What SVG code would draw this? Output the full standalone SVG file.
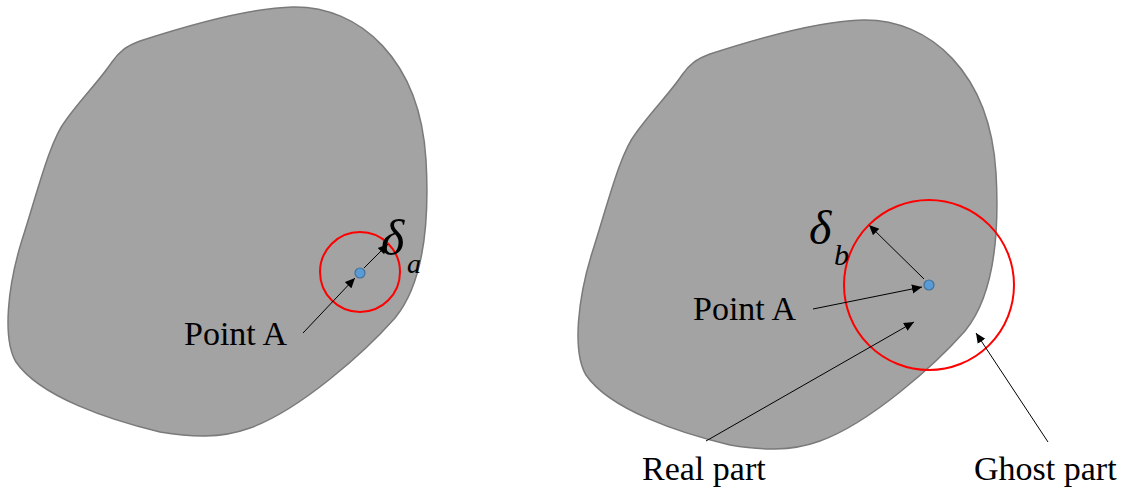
<svg xmlns="http://www.w3.org/2000/svg" width="1127" height="491" viewBox="0 0 1127 491">
<style>
.blob{fill:#a3a3a3;stroke:#7a7a7a;stroke-width:1.5}
.ring{fill:none;stroke:#ff0000;stroke-width:2}
.dot{fill:#5b9bd5;stroke:#41719c;stroke-width:1.2}
.arr{fill:none;stroke:#000;stroke-width:1;marker-end:url(#ah)}
.lbl{font-family:"Liberation Serif",serif;font-size:34px;fill:#000}
.sym{font-family:"Liberation Serif",serif;font-style:italic;fill:#000}
</style>
<defs>
<marker id="ah" viewBox="0 0 10 10" refX="10" refY="5" markerWidth="10" markerHeight="10" markerUnits="userSpaceOnUse" orient="auto">
<path d="M0,0.5 L10,5 L0,9.5 Z" fill="#000"/>
</marker>
<path id="shape" d="M112,62 C119,52 126,46 140,41 C180,28 245,8 293,7 C360,6 420,60 426,160 C430,230 422,285 395,318 C365,352 300,410 250,428 C220,439 190,437 160,432 C110,420 40,397 16,362 C2,338 8,285 22,240 C38,190 50,140 66,120 C80,100 100,80 112,62 Z"/>
</defs>
<g id="shape-a">
<use href="#shape" class="blob"/>
</g>
<g id="shape-b">
<use href="#shape" class="blob" transform="translate(570,13)"/>
</g>
<g id="circle-a">
<circle cx="360" cy="272" r="40" class="ring"/>
</g>
<g id="circle-b">
<circle cx="929" cy="285" r="85" class="ring"/>
</g>
<g id="connectors">
<line x1="303" y1="333" x2="355" y2="278" class="arr"/>
<line x1="364" y1="268" x2="388" y2="244" class="arr"/>
<line x1="813" y1="309" x2="922" y2="287" class="arr"/>
<line x1="924" y1="279" x2="869" y2="225" class="arr"/>
<line x1="706" y1="441" x2="914" y2="322" class="arr"/>
<line x1="1048" y1="442" x2="976" y2="333" class="arr"/>
</g>
<g id="point-a-left">
<circle cx="360" cy="273" r="5" class="dot"/>
<text x="184" y="345" class="lbl">Point A</text>
</g>
<g id="point-a-right">
<circle cx="929" cy="285" r="5" class="dot"/>
<text x="693" y="320" class="lbl">Point A</text>
</g>
<g id="delta-a">
<text x="381" y="255" class="sym" font-size="50">δ</text>
<text x="407" y="273" class="sym" font-size="28">a</text>
</g>
<g id="delta-b">
<text x="809" y="244" class="sym" font-size="48">δ</text>
<text x="834" y="265" class="sym" font-size="30">b</text>
</g>
<g id="real-part">
<text x="642" y="480" class="lbl">Real part</text>
</g>
<g id="ghost-part">
<text x="974" y="480" class="lbl">Ghost part</text>
</g>
</svg>
